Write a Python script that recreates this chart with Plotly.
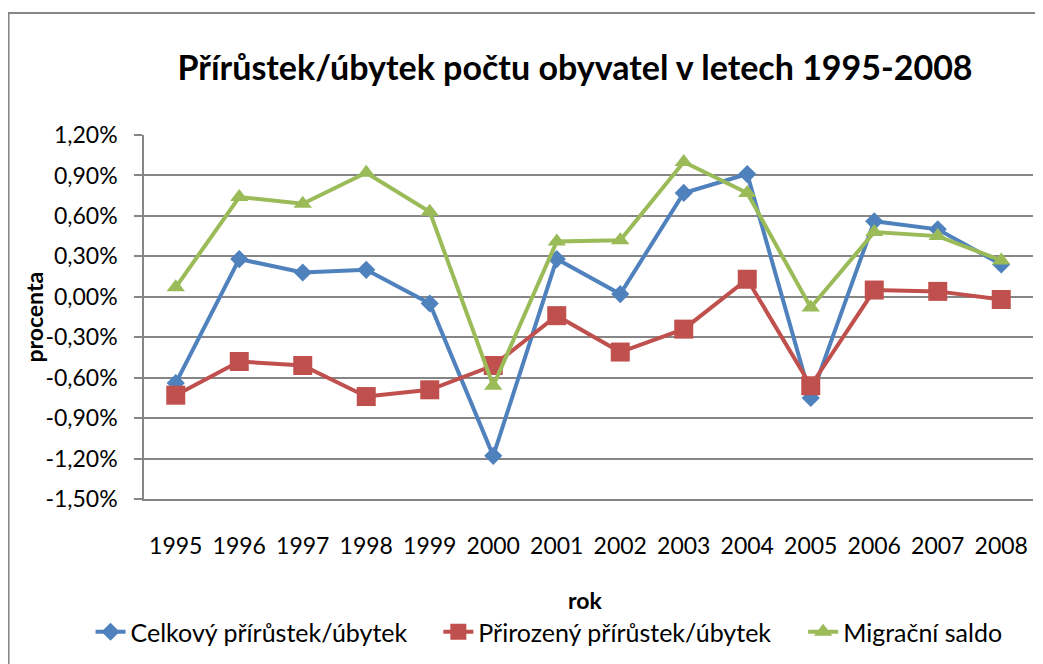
import plotly.graph_objects as go

years = ["1995", "1996", "1997", "1998", "1999", "2000", "2001",
         "2002", "2003", "2004", "2005", "2006", "2007", "2008"]
celkovy = [-0.64, 0.28, 0.18, 0.20, -0.05, -1.18, 0.28, 0.02, 0.77, 0.91, -0.75, 0.56, 0.50, 0.24]
prirozeny = [-0.73, -0.48, -0.51, -0.74, -0.69, -0.51, -0.14, -0.41, -0.24, 0.13, -0.66, 0.05, 0.04, -0.02]
migracni = [0.07, 0.74, 0.69, 0.92, 0.63, -0.66, 0.41, 0.42, 1.00, 0.77, -0.08, 0.48, 0.45, 0.27]

y_tickvals = [1.2, 0.9, 0.6, 0.3, 0.0, -0.3, -0.6, -0.9, -1.2, -1.5]
y_ticktext = ["1,20%", "0,90%", "0,60%", "0,30%", "0,00%", "-0,30%", "-0,60%", "-0,90%", "-1,20%", "-1,50%"]

names = ["Celkový přírůstek/úbytek", "Přirozený přírůstek/úbytek", "Migrační saldo"]
colors = ["#4F81BD", "#C0504D", "#9BBB59"]
symbols = ["diamond", "square", "triangle-up"]
sizes = [14, 19, 16]

FONT = "Lato"
OFF = 8  # page body margin
W, H = 1043 - OFF, 664 - OFF
# reference (page) coordinates of the plot area
PL, PR, PT, PB = 143.5, 1033, 135, 499
L, R, T, B = PL - OFF, W - (PR - OFF), PT - OFF, H - (PB - OFF)
pw, ph = W - L - R, H - T - B

legend_ids = ["legend", "legend2", "legend3"]
legend_text_x = [132, 480, 845]  # page px where each legend text starts

fig = go.Figure()
for name, vals, c, s, sz, lg in zip(names, [celkovy, prirozeny, migracni], colors, symbols, sizes, legend_ids):
    fig.add_trace(go.Scatter(
        x=years, y=vals, name=name, mode="lines+markers",
        line=dict(color=c, width=4),
        marker=dict(symbol=s, size=sz, color=c),
        legend=lg,
    ))

def px_x(x):  # page px -> paper
    return (x - OFF - L) / pw

def px_y(y):
    return (H - B - (y - OFF)) / ph

legend_cfg = {}
for lg, tx in zip(legend_ids, legend_text_x):
    legend_cfg[lg] = dict(orientation="h", x=px_x(tx - 42), xanchor="left",
                          y=px_y(632), yanchor="middle",
                          font=dict(family=FONT, size=25, color="black"),
                          bgcolor="rgba(0,0,0,0)")

fig.update_layout(
    width=W, height=H,
    margin=dict(l=L, r=R, t=T, b=B, autoexpand=False),
    paper_bgcolor="white", plot_bgcolor="white",
    font=dict(family=FONT, size=23, color="black"),
    title=dict(text="<b>Přírůstek/úbytek počtu obyvatel v letech 1995-2008</b>",
               x=(575 - OFF) / W, xanchor="center", y=1 - (68 - OFF) / H, yanchor="middle",
               xref="container", yref="container",
               font=dict(family=FONT, size=34, color="black")),
    showlegend=True,
    xaxis=dict(type="category", range=[-0.5, 13.5], showgrid=False,
               showline=True, linecolor="#868686", linewidth=2,
               ticks="", ticklabelstandoff=25,
               tickfont=dict(family=FONT, size=23, color="black"), fixedrange=True),
    yaxis=dict(range=[-1.5, 1.2], tickvals=y_tickvals, ticktext=y_ticktext,
               showgrid=True, gridcolor="#868686", gridwidth=1.5,
               showline=True, linecolor="#868686", linewidth=1.5,
               ticks="outside", ticklen=8, tickcolor="#868686", tickwidth=1.5,
               ticklabelstandoff=12, zeroline=False,
               tickfont=dict(family=FONT, size=23, color="black"), fixedrange=True),
    annotations=[
        dict(text="<b>rok</b>", x=px_x(585), y=px_y(600), xref="paper", yref="paper",
             showarrow=False, xanchor="center", yanchor="middle",
             font=dict(family=FONT, size=23, color="black")),
        dict(text="<b>procenta</b>", x=px_x(33), y=0.5, xref="paper", yref="paper",
             showarrow=False, xanchor="center", yanchor="middle", textangle=-90,
             font=dict(family=FONT, size=23, color="black")),
    ],
    shapes=[
        dict(type="rect", xref="paper", yref="paper",
             x0=px_x(8), x1=px_x(1043 + 20), y0=px_y(664 + 20), y1=px_y(13),
             line=dict(color="#868686", width=2), fillcolor="rgba(0,0,0,0)", layer="below"),
    ],
    **legend_cfg,
)

fig.write_html("out.html")
